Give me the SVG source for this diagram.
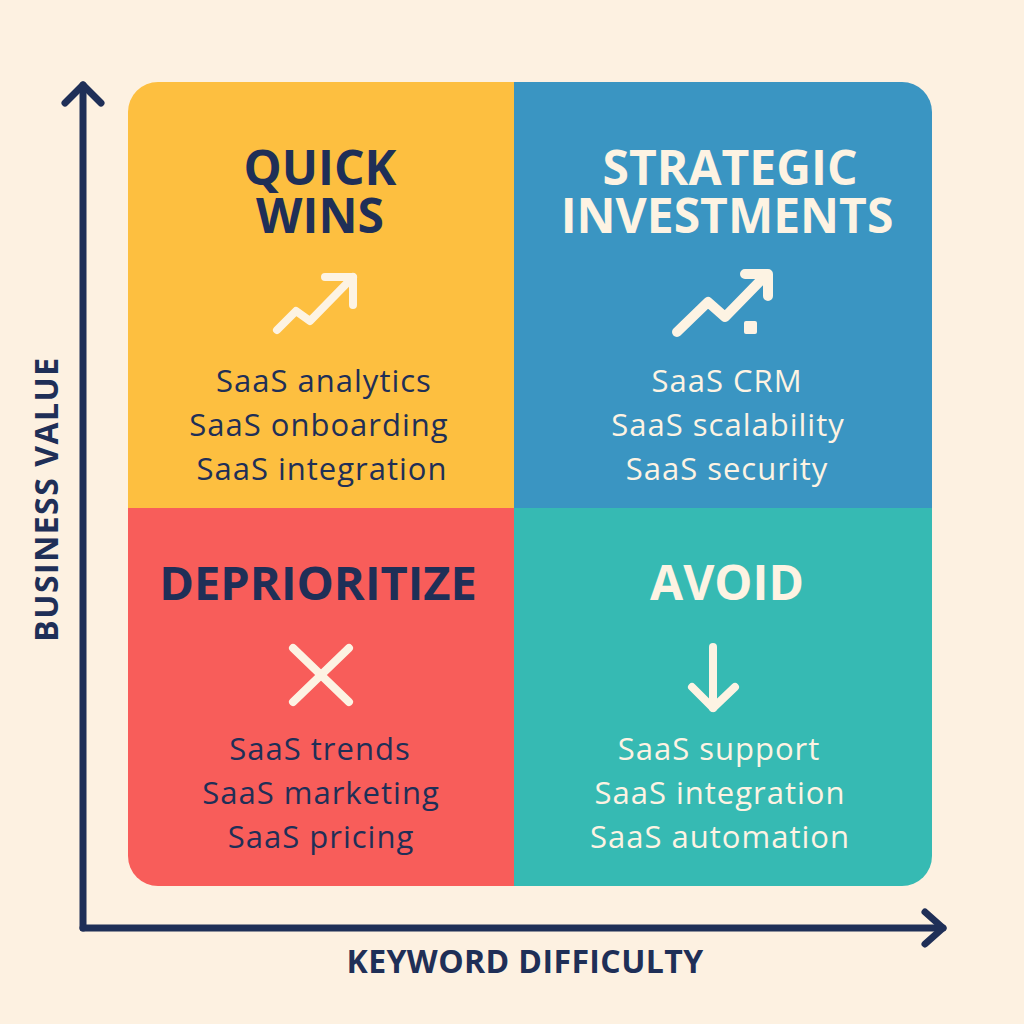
<svg xmlns="http://www.w3.org/2000/svg" width="1024" height="1024" viewBox="0 0 1024 1024">
<style>
.title{font-family:"Open Sans","Liberation Sans",sans-serif;font-weight:700;font-size:48px;text-anchor:middle}
.body{font-family:"Open Sans","Liberation Sans",sans-serif;font-weight:400;font-size:31px;letter-spacing:1px;text-anchor:middle}
.axislbl{font-family:"Open Sans","Liberation Sans",sans-serif;font-weight:700;font-size:32px;text-anchor:middle;fill:#1F2F57}
.navy{fill:#1F2F57}
.cream{fill:#FDF3E3}
.icon{fill:none;stroke:#FDF3E3;stroke-linecap:round;stroke-linejoin:round}
.axis{fill:none;stroke:#1F2F57;stroke-width:7;stroke-linecap:round;stroke-linejoin:round}
</style>
<rect width="1024" height="1024" fill="#FDF1E1"/>
<g id="quick-wins">
<path d="M514,82 H158 A30,30 0 0 0 128,112 V508 H514 Z" fill="#FDBF40"/>
<text class="title navy"><tspan x="320" y="185">QUICK</tspan><tspan x="320" y="233">WINS</tspan></text>
<polyline class="icon" stroke-width="8" points="277,330 296,311 310,321 353,277"/>
<polyline class="icon" stroke-width="8" points="325,277 353,277 353,305"/>
<text class="body navy" x="324" y="392">SaaS analytics</text>
<text class="body navy" x="319" y="436">SaaS onboarding</text>
<text class="body navy" x="322" y="480">SaaS integration</text>
</g>
<g id="strategic-investments">
<path d="M514,82 H902 A30,30 0 0 1 932,112 V508 H514 Z" fill="#3A95C2"/>
<text class="title cream"><tspan x="730" y="185">STRATEGIC</tspan><tspan x="727" y="233">INVESTMENTS</tspan></text>
<polyline class="icon" stroke-width="10" points="677,332 708,302 725,317 766,275"/>
<polyline class="icon" stroke-width="10" points="745,274 768,274 768,296"/>
<rect x="744" y="321" width="13" height="13" rx="2" fill="#FDF3E3"/>
<text class="body cream" x="727" y="392">SaaS CRM</text>
<text class="body cream" x="728" y="436">SaaS scalability</text>
<text class="body cream" x="727" y="480">SaaS security</text>
</g>
<g id="deprioritize">
<path d="M128,508 H514 V886 H158 A30,30 0 0 1 128,856 Z" fill="#F85D5A"/>
<text class="title navy" x="318" y="600" style="font-size:47px">DEPRIORITIZE</text>
<line class="icon" stroke-width="8" x1="293" y1="648" x2="349" y2="702"/>
<line class="icon" stroke-width="8" x1="349" y1="648" x2="293" y2="702"/>
<text class="body navy" x="320" y="760">SaaS trends</text>
<text class="body navy" x="321" y="804">SaaS marketing</text>
<text class="body navy" x="321" y="848">SaaS pricing</text>
</g>
<g id="avoid">
<path d="M514,508 H932 V856 A30,30 0 0 1 902,886 H514 Z" fill="#36BAB3"/>
<text class="title cream" x="727" y="600">AVOID</text>
<line class="icon" stroke-width="8" x1="713" y1="647" x2="713" y2="708"/>
<polyline class="icon" stroke-width="8" points="692,687 713,708 735,687"/>
<text class="body cream" x="719" y="760">SaaS support</text>
<text class="body cream" x="720" y="804">SaaS integration</text>
<text class="body cream" x="720" y="848">SaaS automation</text>
</g>
<g id="connectors">
<polyline class="axis" points="83,928 83,85"/>
<polyline class="axis" points="65,103 83,85 101,103"/>
<polyline class="axis" points="83,928 943,928"/>
<polyline class="axis" points="925,912 943,928 925,944"/>
</g>
<g id="axis-labels">
<text class="axislbl" transform="translate(58,499) rotate(-90)" style="letter-spacing:1.5px">BUSINESS VALUE</text>
<text class="axislbl" x="525" y="973" style="letter-spacing:0.4px">KEYWORD DIFFICULTY</text>
</g>
</svg>
